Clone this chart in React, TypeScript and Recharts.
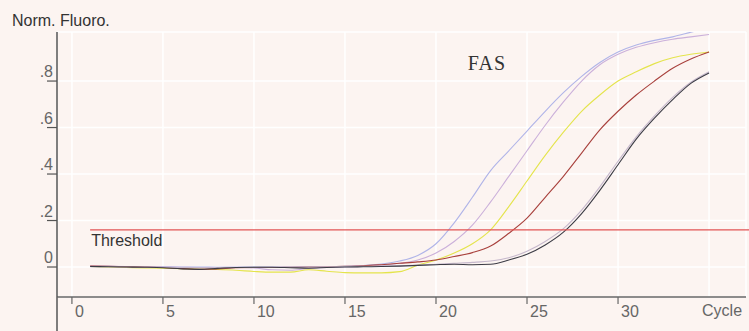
import {
  LineChart,
  Line,
  XAxis,
  YAxis,
  CartesianGrid,
  ReferenceLine,
  ReferenceDot,
} from "recharts";

const cycles = [
  1, 2, 3, 4, 5, 6, 7, 8, 9, 10, 11, 12, 13, 14, 15, 16, 17, 18, 19, 20, 21,
  22, 23, 24, 25, 26, 27, 28, 29, 30, 31, 32, 33, 34, 35,
];

// lavender (earliest)
const wellA = [
  0.003, 0.003, 0.002, 0.002, 0.001, 0, 0, -0.001, -0.001, 0, 0, 0, 0.001,
  0.002, 0.003, 0.006, 0.013, 0.026, 0.05, 0.1, 0.19, 0.3, 0.415, 0.5, 0.585,
  0.67, 0.75, 0.82, 0.88, 0.925, 0.955, 0.975, 0.99, 1.01, 1.03,
];
// pinkish lavender
const wellB = [
  0.004, 0.003, 0.002, 0.001, 0, -0.001, -0.002, -0.002, -0.001, -0.004,
  -0.012, -0.014, -0.006, -0.002, 0, 0.002, 0.008, 0.016, 0.03, 0.06, 0.11,
  0.18, 0.28, 0.39, 0.5, 0.61, 0.71, 0.8, 0.87, 0.915, 0.945, 0.965, 0.98,
  0.99, 1.0,
];
// yellow
const wellC = [
  0.002, 0, -0.002, -0.004, -0.005, -0.007, -0.009, -0.011, -0.014, -0.019,
  -0.022, -0.022, -0.012, -0.018, -0.024, -0.025, -0.025, -0.02, 0.008, 0.03,
  0.06, 0.1, 0.16, 0.26, 0.37, 0.48, 0.58, 0.67, 0.74, 0.8, 0.84, 0.875, 0.9,
  0.915, 0.925,
];
// dark red
const wellD = [
  0.004, 0.003, 0.001, 0, -0.002, -0.006, -0.01, -0.008, -0.003, -0.002,
  -0.002, -0.001, 0, 0.001, 0.003, 0.005, 0.01, 0.016, 0.022, 0.03, 0.045,
  0.062, 0.09, 0.145, 0.21, 0.3, 0.39, 0.49, 0.59, 0.67, 0.74, 0.8, 0.855,
  0.895, 0.925,
];
// black
const wellE = [
  0.002, 0.001, 0, -0.001, -0.003, -0.008, -0.01, -0.006, -0.002, -0.001,
  -0.001, -0.003, -0.005, -0.002, 0, 0.001, 0.002, 0.004, 0.007, 0.01, 0.012,
  0.01, 0.012, 0.03, 0.055, 0.095, 0.15, 0.23, 0.33, 0.44, 0.55, 0.64, 0.72,
  0.79, 0.835,
];
// light grey-lavender (pair of black)
const wellF = [
  0.001, 0.001, 0, 0, -0.001, -0.002, -0.003, -0.003, -0.002, -0.001, 0, 0,
  0, 0.001, 0.002, 0.003, 0.004, 0.006, 0.008, 0.012, 0.016, 0.02, 0.026,
  0.04, 0.068, 0.11, 0.165, 0.245, 0.345, 0.455, 0.56, 0.65, 0.73, 0.795,
  0.84,
];

const xTicks = [0, 5, 10, 15, 20, 25, 30, 35];
const yTicks = [0, 0.2, 0.4, 0.6, 0.8];
const yTickLabels = ["0", ".2", ".4", ".6", ".8"];
const threshold = 0.16;

const X_MIN = -0.82;
const X_MAX = 37.03;
const Y_MIN = -0.129;
const Y_MAX = 1.011;

const data = cycles.map((c, i) => ({
  cycle: c,
  a: wellA[i],
  b: wellB[i],
  c: wellC[i],
  d: wellD[i],
  e: wellE[i],
  f: wellF[i],
}));

const FONT = '"Liberation Sans", Arial, sans-serif';
const TEXT = "#666";

function XTick({ x, y, payload }: any) {
  if (payload.value === 35) {
    return (
      <text x={x - 7} y={y + 19} fill={TEXT} fontSize={16} fontFamily={FONT}>
        Cycle
      </text>
    );
  }
  return (
    <g>
      <line x1={x} y1={y} x2={x} y2={y + 7} stroke="#666" strokeWidth={1.2} />
      <text x={x + 3} y={y + 20} fill={TEXT} fontSize={16} fontFamily={FONT}>
        {payload.value}
      </text>
    </g>
  );
}

function YTick({ x, y, payload }: any) {
  const idx = yTicks.indexOf(payload.value);
  return (
    <g>
      <line x1={x - 10} y1={y} x2={x} y2={y} stroke="#555" strokeWidth={1.2} />
      <text
        x={x - 4}
        y={y - 4}
        textAnchor="end"
        fill={TEXT}
        fontSize={16}
        fontFamily={FONT}
      >
        {yTickLabels[idx]}
      </text>
    </g>
  );
}

const series = [
  { key: "a", color: "#b0b4e8" },
  { key: "b", color: "#cbb0da" },
  { key: "c", color: "#e4e44c" },
  { key: "d", color: "#a8403c" },
  { key: "f", color: "#c6b8cc" },
  { key: "e", color: "#3c3c46" },
];

export default function App() {
  return (
    <div
      style={{
        position: "fixed",
        left: 0,
        top: 0,
        width: 749,
        height: 331,
        background: "#fcf4f1",
        fontFamily: FONT,
      }}
    >
      <div
        style={{
          position: "absolute",
          left: 12,
          top: 12,
          fontSize: 16,
          lineHeight: "18px",
          color: "#333",
        }}
      >
        Norm. Fluoro.
      </div>
      <LineChart
        width={749}
        height={331}
        data={data}
        margin={{ top: 32, right: 3, bottom: 0, left: 0 }}
      >
        <CartesianGrid stroke="#ffffff" strokeWidth={1.5} />
        <XAxis
          dataKey="cycle"
          type="number"
          domain={[X_MIN, X_MAX]}
          ticks={xTicks}
          interval={0}
          allowDataOverflow
          height={34}
          axisLine={{ stroke: "#666", strokeWidth: 1.5 }}
          tickLine={false}
          tickSize={0}
          tickMargin={0}
          tick={<XTick />}
        />
        <YAxis
          type="number"
          domain={[Y_MIN, Y_MAX]}
          ticks={yTicks}
          interval={0}
          allowDataOverflow
          width={57}
          axisLine={{ stroke: "#555", strokeWidth: 1.5 }}
          tickLine={false}
          tickSize={0}
          tickMargin={0}
          tick={<YTick />}
        />
        <ReferenceLine
          segment={[
            { x: X_MIN, y: Y_MIN },
            { x: X_MIN, y: -0.28 },
          ]}
          stroke="#555"
          strokeWidth={1.5}
          ifOverflow="visible"
        />
        {series.map((s) => (
          <Line
            key={s.key}
            type="monotone"
            dataKey={s.key}
            stroke={s.color}
            strokeWidth={1.1}
            dot={false}
            isAnimationActive={false}
          />
        ))}
        <ReferenceLine
          segment={[
            { x: 1, y: threshold },
            { x: X_MAX + 0.2, y: threshold },
          ]}
          stroke="#e25454"
          strokeWidth={1.3}
          ifOverflow="visible"
          label={(props: any) => (
            <text
              x={props.viewBox.x + 1}
              y={props.viewBox.y + 16}
              fill="#333"
              fontSize={16}
              fontFamily={FONT}
            >
              Threshold
            </text>
          )}
        />
        <ReferenceDot
          x={22.8}
          y={0.877}
          r={0}
          stroke="none"
          fill="none"
          label={{
            value: "FAS",
            position: "center",
            fill: "#333",
            fontSize: 20,
            fontFamily: '"Liberation Serif", "Times New Roman", serif',
            letterSpacing: 1,
          }}
        />
      </LineChart>
    </div>
  );
}
